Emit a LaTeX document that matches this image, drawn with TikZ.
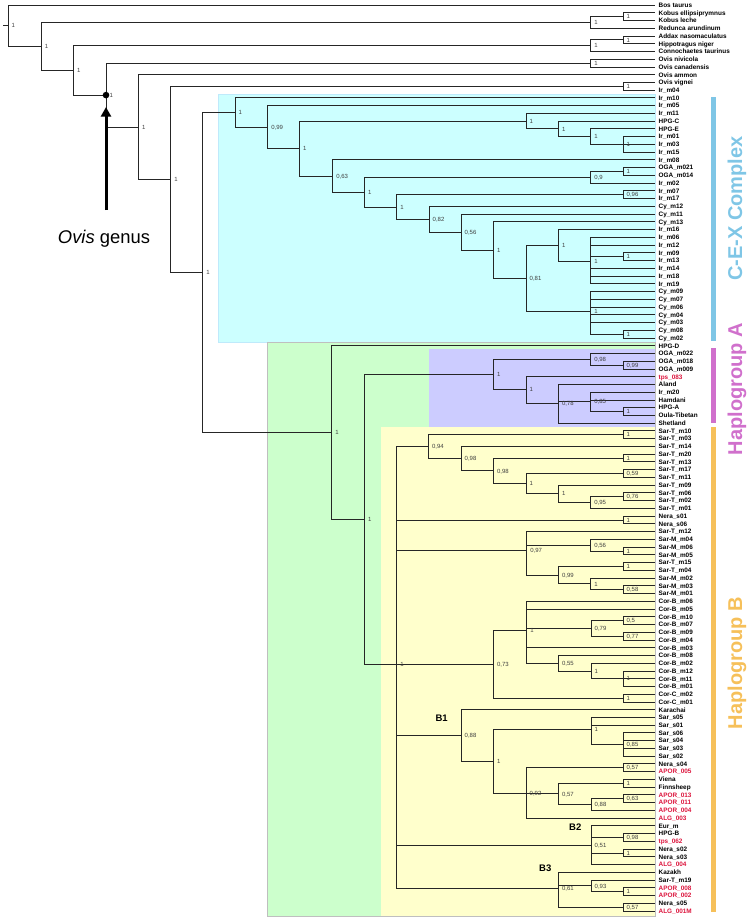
\documentclass[tikz,border=0pt]{standalone}
\usepackage{fontspec}
\setmainfont{Liberation Sans}
\usetikzlibrary{arrows.meta}

\definecolor{tipred}{RGB}{220,20,60}
\definecolor{cexfill}{HTML}{CCFFFF}
\definecolor{grnfill}{HTML}{CCFFCC}
\definecolor{lavfill}{HTML}{CCCCFF}
\definecolor{yelfill}{HTML}{FFFFCC}
\definecolor{cexbar}{HTML}{7FC6E6}
\definecolor{habar}{HTML}{D070CC}
\definecolor{hbbar}{HTML}{F6C05A}

\newcommand{\R}{\color{tipred}}
% clade: name, x, support, children (node sits at the mean y of its children)
\newcommand{\clade}[4]{%
  \gdef\cladesum{0}\gdef\cladenum{0}%
  \foreach \ch in {#4}{%
    \path (\ch); \pgfgetlastxy{\chx}{\chy}%
    \pgfmathsetmacro\cladetmp{\cladesum+\chy}\xdef\cladesum{\cladetmp}%
    \pgfmathsetmacro\cladetmp{\cladenum+1}\xdef\cladenum{\cladetmp}}%
  \pgfmathsetmacro\cladey{\cladesum/\cladenum}%
  \coordinate (#1) at (#2pt,\cladey pt);%
  \foreach \ch in {#4}{\draw[branch] (#1) |- (\ch);}%
  \node[sup] at (#1) {#3};}

\begin{document}
\begin{tikzpicture}[x=1pt, y=-1pt,
    leaf/.style={anchor=west, inner xsep=3.5pt, inner ysep=0pt, text height=4.6pt, text depth=0pt,
        font=\fontsize{6.4}{7}\selectfont\bfseries},
    sup/.style={anchor=west, inner sep=0.5pt, xshift=3pt, text height=4.3pt, text depth=0pt,
        text=black!75, font=\fontsize{6}{6}\selectfont},
    branch/.style={draw=black!85, line width=0.9pt},
    group/.style={rotate=90, anchor=base, inner sep=0pt, font=\fontsize{20}{20}\selectfont\bfseries}]
    \useasboundingbox (0,0) rectangle (750,922);

    \filldraw[fill=cexfill, draw=cyan!25] (218.3,94.3) rectangle (655,341.7);
    \filldraw[fill=grnfill, draw=black!25, line width=0.4pt] (267.3,341.7) rectangle (655,915.7);
    \fill[lavfill] (429,349.3) rectangle (655,427.3);
    \fill[yelfill] (381,427.3) rectangle (655,915.7);

    \fill[cexbar] (711,96.7) rectangle (716,341);
    \fill[habar] (711,348) rectangle (716,423.3);
    \fill[hbbar] (711,427.3) rectangle (716,911.7);
    \node[group, text=cexbar] (cex) at (742,208.5) {C-E-X Complex};
    \node[group, text=habar] (hapa) at (742,389) {Haplogroup A};
    \node[group, text=hbbar] (hapb) at (742,663) {Haplogroup B};

    \foreach \lab [count=\i] in {Bos taurus,Kobus ellipsiprymnus,Kobus leche,Redunca arundinum,
        Addax nasomaculatus,Hippotragus niger,Connochaetes taurinus,Ovis nivicola,Ovis canadensis,
        Ovis ammon,Ovis vignei,Ir\_m04,Ir\_m10,Ir\_m05,Ir\_m11,HPG-C,HPG-E,Ir\_m01,Ir\_m03,Ir\_m15,
        Ir\_m08,OGA\_m021,OGA\_m014,Ir\_m02,Ir\_m07,Ir\_m17,Cy\_m12,Cy\_m11,Cy\_m13,Ir\_m16,Ir\_m06,
        Ir\_m12,Ir\_m09,Ir\_m13,Ir\_m14,Ir\_m18,Ir\_m19,Cy\_m09,Cy\_m07,Cy\_m06,Cy\_m04,Cy\_m03,
        Cy\_m08,Cy\_m02,HPG-D,OGA\_m022,OGA\_m018,OGA\_m009,{\R tps\_083},Aland,Ir\_m20,Hamdani,
        HPG-A,Oula-Tibetan,Shetland,Sar-T\_m10,Sar-T\_m03,Sar-T\_m14,Sar-T\_m20,Sar-T\_m13,
        Sar-T\_m17,Sar-T\_m11,Sar-T\_m09,Sar-T\_m06,Sar-T\_m02,Sar-T\_m01,Nera\_s01,Nera\_s06,
        Sar-T\_m12,Sar-M\_m04,Sar-M\_m06,Sar-M\_m05,Sar-T\_m15,Sar-T\_m04,Sar-M\_m02,Sar-M\_m03,
        Sar-M\_m01,Cor-B\_m06,Cor-B\_m05,Cor-B\_m10,Cor-B\_m07,Cor-B\_m09,Cor-B\_m04,Cor-B\_m03,
        Cor-B\_m08,Cor-B\_m02,Cor-B\_m12,Cor-B\_m11,Cor-B\_m01,Cor-C\_m02,Cor-C\_m01,Karachai,
        Sar\_s05,Sar\_s01,Sar\_s06,Sar\_s04,Sar\_s03,Sar\_s02,Nera\_s04,{\R APOR\_005},Viena,
        Finnsheep,{\R APOR\_013},{\R APOR\_011},{\R APOR\_004},{\R ALG\_003},Eur\_m,HPG-B,
        {\R tps\_062},Nera\_s02,Nera\_s03,{\R ALG\_004},Kazakh,Sar-T\_m19,{\R APOR\_008},
        {\R APOR\_002},Nera\_s05,{\R ALG\_001M}}
        \node[leaf] (l\i) at (655,{5+(\i-1)*7.744}) {\lab};

    % outgroups
    \clade{kob1}{623}{1}{l2,l3}
    \clade{kob2}{590.7}{1}{kob1,l4}
    \clade{add1}{623}{1}{l5,l6}
    \clade{add2}{590.7}{1}{add1,l7}
    \clade{ovam}{590.7}{1}{l8,l9}
    \clade{vig}{623}{1}{l11,l12}

    % C-E-X complex
    \clade{u4}{623}{1}{l18,l19,l20}
    \clade{u3}{590.7}{1}{l17,u4}
    \clade{u2}{558.3}{1}{l16,u3}
    \clade{u1}{526}{1}{l15,u2}
    \clade{oga}{623}{1}{l22,l23}
    \clade{oga2}{590.7}{0,9}{oga,l24}
    \clade{ir7}{623}{0,96}{l25,l26}
    \clade{ir9}{623}{1}{l33,l34}
    \clade{c12}{590.7}{1}{l31,l32,ir9,l35,l36,l37}
    \clade{c11}{558.3}{1}{l30,c12}
    \clade{cy8}{623}{1}{l43,l44}
    \clade{c13}{590.7}{1}{l38,l39,l40,l41,l42,cy8}
    \clade{c10}{526}{0,81}{c11,c13}
    \clade{c9}{493.3}{1}{l29,c10}
    \clade{c8}{461}{0,56}{l28,c9}
    \clade{c7}{429}{0,82}{l27,c8}
    \clade{c6}{396.7}{1}{ir7,c7}
    \clade{c5}{364.3}{1}{oga2,c6}
    \clade{c4}{332.7}{0,63}{l21,c5}
    \clade{c3}{299.3}{1}{u1,c4}
    \clade{c2}{267.7}{0,99}{l14,c3}
    \clade{c1}{235}{1}{l13,c2}

    % haplogroup A
    \clade{h1}{623}{0,99}{l47,l48}
    \clade{h2}{590.7}{0,98}{l46,h1}
    \clade{h3}{623}{1}{l53,l54}
    \clade{h4}{590.7}{0,85}{l51,l52,h3}
    \clade{h5}{558.3}{0,78}{l50,h4,l55}
    \clade{h6}{526}{1}{l49,h5}
    \clade{ha}{493.3}{1}{h2,h6}

    % haplogroup B
    \clade{st1}{623}{1}{l56,l57}
    \clade{st2}{623}{1}{l59,l60}
    \clade{st3}{623}{0,59}{l61,l62}
    \clade{st4}{623}{0,76}{l64,l65}
    \clade{s6}{590.7}{0,95}{st4,l66}
    \clade{s5}{558.3}{1}{l63,s6}
    \clade{s4}{526}{1}{st3,s5}
    \clade{s3}{493.3}{0,98}{st2,s4}
    \clade{s2}{461}{0,98}{l58,s3}
    \clade{s1}{428.3}{0,94}{st1,s2}
    \clade{nera}{623}{1}{l67,l68}
    \clade{sm1}{623}{1}{l71,l72}
    \clade{m2}{590.7}{0,56}{l70,sm1}
    \clade{sm2}{623}{1}{l73,l74}
    \clade{sm3}{623}{0,58}{l76,l77}
    \clade{m4}{590.7}{1}{l75,sm3}
    \clade{m3}{558.3}{0,99}{sm2,m4}
    \clade{m1}{526.7}{0,97}{l69,m2,m3}
    \clade{cor1}{623}{0,5}{l80,l81}
    \clade{cor2}{623}{0,77}{l82,l83}
    \clade{cb1}{591}{0,79}{cor1,cor2}
    \clade{cor3}{623}{1}{l87,l88,l89}
    \clade{cb3}{591}{1}{l86,cor3}
    \clade{cb2}{558.3}{0,55}{l85,cb3}
    \clade{cb}{526.7}{1}{l78,l79,cb1,l84,cb2}
    \clade{corc}{623}{1}{l90,l91}
    \clade{c0}{493.3}{0,73}{cb,corc}
    \clade{sar}{623}{0,85}{l95,l96,l97,l98}
    \clade{d2}{591}{1}{l93,l94,sar}
    \clade{ap1}{623}{0,57}{l99,l100}
    \clade{ap2}{623}{1}{l101,l102}
    \clade{ap3}{623}{0,63}{l103,l104}
    \clade{d6}{591}{0,88}{ap3,l105}
    \clade{d5}{558.3}{0,57}{ap2,d6}
    \clade{d4}{526}{0,92}{ap1,d5,l106}
    \clade{d1}{493.3}{1}{d2,d4}
    \clade{b1}{461}{0,88}{l92,d1}
    \clade{e2}{623}{0,98}{l108,l109}
    \clade{e3}{623}{1}{l110,l111}
    \clade{b2}{591}{0,51}{l107,e2,e3,l112}
    \clade{f3}{623}{1}{l115,l116}
    \clade{f2}{591}{0,93}{l114,f3}
    \clade{f4}{623}{0,57}{l117,l118}
    \clade{b3}{558.3}{0,61}{l113,f2,f4}
    \clade{hb}{396.7}{1}{s1,nera,m1,c0,b1,b2,b3}

    % backbone
    \clade{nc}{364.5}{1}{ha,hb}
    \clade{nb}{331.7}{1}{l45,nc}
    \clade{n7}{202.7}{1}{c1,nb}
    \clade{n6}{170.7}{1}{vig,n7}
    \clade{n5}{138.3}{1}{l10,n6}
    \clade{n4}{106}{1}{ovam,n5}
    \clade{n3}{73.3}{1}{add2,n4}
    \clade{n2}{41.3}{1}{kob2,n3}
    \clade{root}{8}{1}{l1,n2}
    \draw[branch] (root) -- ++(-5,0);

    \node[font=\bfseries\fontsize{9.5}{10}\selectfont] (tb1) at (441.7,718.3) {B1};
    \node[font=\bfseries\fontsize{9.5}{10}\selectfont] (tb2) at (575.3,826.7) {B2};
    \node[font=\bfseries\fontsize{9.5}{10}\selectfont] (tb3) at (545.3,868.7) {B3};

    \fill (n4) circle (3.3);
    \coordinate (arrowfoot) at (106,210);
    \draw[line width=3pt, -{Triangle[length=9.5pt,width=10pt]}, shorten >=12pt] (arrowfoot) -- (n4);
    \node[anchor=base, inner sep=0pt, font=\fontsize{18.4}{20}\selectfont] (genus) at (104,243.3) {\textit{Ovis} genus};
\end{tikzpicture}
\end{document}
